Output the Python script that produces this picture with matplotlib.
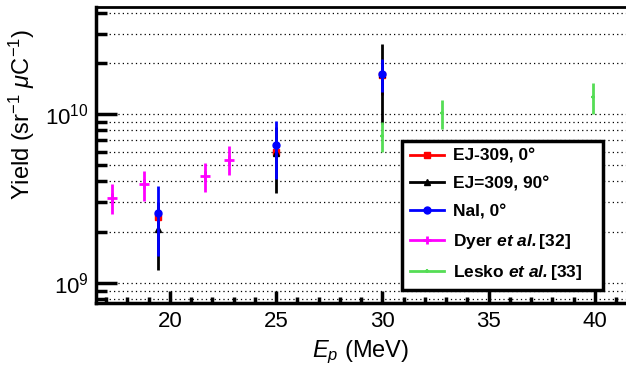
import matplotlib
matplotlib.use("Agg")
import matplotlib.pyplot as plt
from matplotlib.lines import Line2D
from matplotlib.ticker import LogLocator, MultipleLocator

plt.rcParams['font.family'] = ['Liberation Sans', 'DejaVu Sans']
plt.rcParams['mathtext.fontset'] = 'custom'
plt.rcParams['mathtext.rm'] = 'Liberation Sans'
plt.rcParams['mathtext.it'] = 'Liberation Sans:italic'
plt.rcParams['mathtext.bf'] = 'Liberation Sans:bold'
plt.rcParams['mathtext.bfit'] = 'Liberation Sans:italic:bold'

# EJ-309 at 0 degrees
ej0_x = [19.45, 25.0, 30.0]
ej0_y = [2.46e9, 5.98e9, 1.70e10]
ej0_err = [0.35e9, 0.6e9, 0.4e10]

# EJ-309 at 90 degrees
ej90_x = [19.45, 25.0, 30.0]
ej90_y = [2.1e9, 5.9e9, 1.73e10]
ej90_err = [0.9e9, 2.5e9, 0.86e10]

# NaI at 0 degrees
nai_x = [19.45, 25.0, 30.0]
nai_y = [2.6e9, 6.6e9, 1.74e10]
nai_err = [1.15e9, 2.5e9, 0.38e10]

# Dyer et al. [32]
dyer_x = [17.3, 18.78, 21.66, 22.77]
dyer_y = [3.2e9, 3.83e9, 4.29e9, 5.38e9]
dyer_err = [0.65e9, 0.77e9, 0.85e9, 1.05e9]

# Lesko et al. [33]
lesko_x = [30.0, 32.8, 39.93]
lesko_y = [7.44e9, 1.02e10, 1.26e10]
lesko_err = [1.5e9, 2.0e9, 2.6e9]

fig = plt.figure(figsize=(6.26, 3.73), dpi=100)
ax = fig.add_axes([96/626, 1-303/373, 1-96/626, (303-6.7)/373])

ax.errorbar(ej0_x, ej0_y, yerr=ej0_err, fmt='s', color='#ff0000', ms=5, elinewidth=2, zorder=3)
ax.errorbar(ej90_x, ej90_y, yerr=ej90_err, fmt='^', color='black', ms=4, elinewidth=2, zorder=3)
ax.errorbar(nai_x, nai_y, yerr=nai_err, fmt='o', color='#0000ff', ms=5, elinewidth=2, zorder=4)
ax.errorbar(dyer_x, dyer_y, yerr=dyer_err, fmt='+', color='#ff00ff', ms=7, mew=2, elinewidth=2, zorder=3)
ax.errorbar(lesko_x, lesko_y, yerr=lesko_err, fmt='+', color='#55dd55', ms=3, mew=1.5, elinewidth=2, zorder=3)

ax.set_yscale('log')
ax.set_xlim(16.53, 41.46)
ax.set_ylim(7.6e8, 4.33e10)

ax.xaxis.set_major_locator(MultipleLocator(5))
ax.xaxis.set_minor_locator(MultipleLocator(1))
ax.yaxis.set_major_locator(LogLocator(base=10))
ax.yaxis.set_minor_locator(LogLocator(base=10, subs=range(2, 10)))

ax.tick_params(which='both', direction='in', labelsize=16, width=2.5)
ax.tick_params(axis='y', which='major', length=15, pad=5)
ax.tick_params(axis='y', which='minor', length=8)
ax.tick_params(axis='x', which='major', length=9, pad=6)
ax.tick_params(axis='x', which='minor', length=4)

ax.grid(True, axis='y', which='both', color='black', linestyle=(0, (1, 2.5)), linewidth=0.9)

for s in ['left', 'bottom']:
    ax.spines[s].set_linewidth(2.5)
ax.spines['top'].set_linewidth(2)
ax.spines['right'].set_visible(False)

ax.set_xlabel(r'$E_p$ (MeV)', fontsize=17)
ax.xaxis.set_label_coords(0.5, -0.12)
ax.set_ylabel(r'Yield (sr$^{-1}$ $\mu$C$^{-1}$)', fontsize=17, loc='top')
ax.yaxis.set_label_coords(-0.111, 0.925)

handles = [
    Line2D([], [], color='#ff0000', marker='s', ms=5, lw=2),
    Line2D([], [], color='black', marker='^', ms=4, lw=2),
    Line2D([], [], color='#0000ff', marker='o', ms=5, lw=2),
    Line2D([], [], color='#ff00ff', marker='+', ms=6, mew=2, lw=2),
    Line2D([], [], color='#55dd55', marker='+', ms=3, mew=1.5, lw=2),
]
labels = [u'EJ-309, 0\u00b0', u'EJ=309, 90\u00b0', u'NaI, 0\u00b0',
          r'Dyer $\mathbfit{et\ al.}$[32]', r'Lesko $\mathbfit{et\ al.}$[33]']
leg = ax.legend(handles, labels, loc='lower left', bbox_to_anchor=(0.577, 0.044, 0.38, 0.5),
                mode='expand', prop={'weight': 'bold', 'size': 12.5}, frameon=True,
                fancybox=False, edgecolor='black', framealpha=1, labelspacing=0.72,
                handlelength=2.0, handletextpad=0.5, borderpad=0.45, borderaxespad=0)
leg.get_frame().set_linewidth(2.5)
leg.set_zorder(10)

fig.savefig('out.png', dpi=100)
